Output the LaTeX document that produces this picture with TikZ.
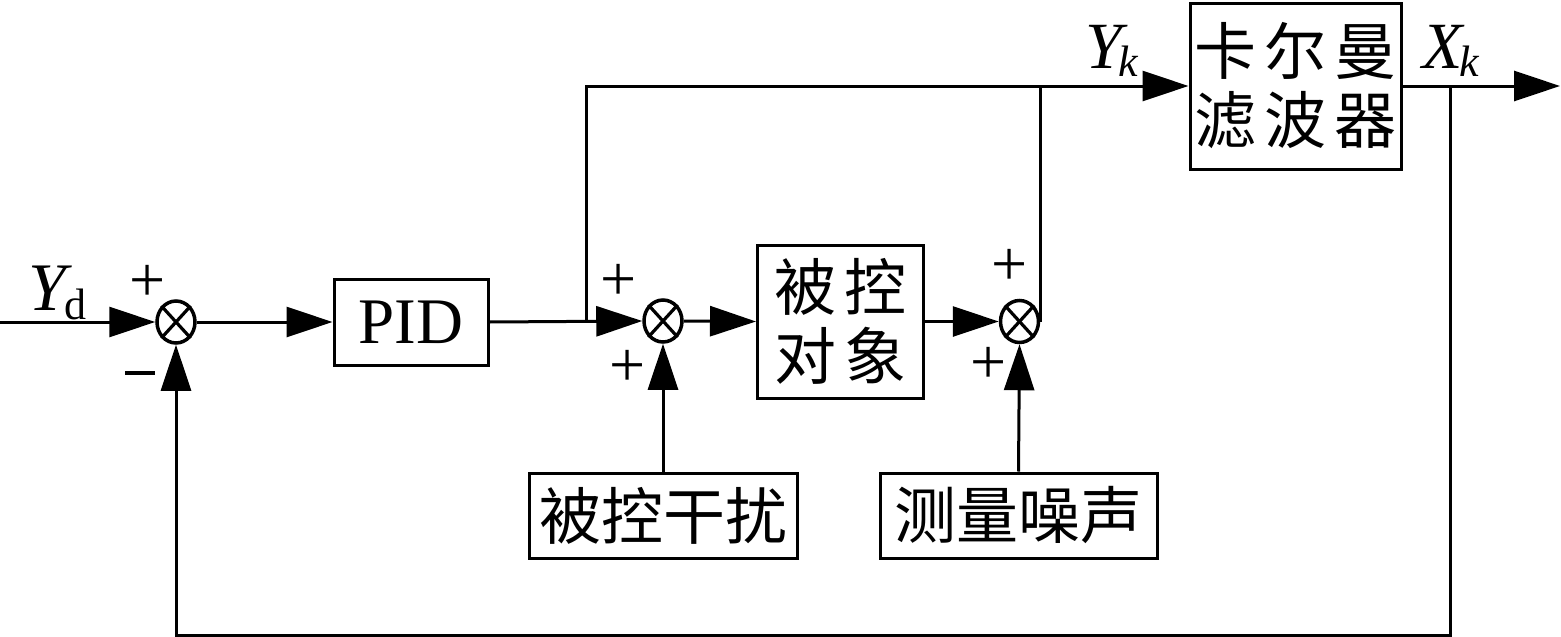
\documentclass[tikz,border=0pt]{standalone}
\usepackage{fontspec}
\setmainfont{Liberation Serif}
\newfontfamily\cjk{Noto Sans CJK SC}
\usetikzlibrary{arrows.meta,shapes.geometric}
\tikzset{
  wire/.style={line width=3pt, black},
  arr/.style={wire, -{Triangle[length=46pt,width=30pt]}},
  blk/.style={draw, line width=3pt, inner sep=0pt, align=center},
  sumnode/.style={draw, ellipse, line width=3.5pt, minimum width=38pt, minimum height=42pt, inner sep=0pt},
  cjktext/.style={font=\cjk\fontsize{62}{72}\selectfont},
  sign/.style={inner sep=0pt, font=\fontsize{64}{64}\selectfont},
  lbl/.style={inner sep=0pt, anchor=base west}
}
\begin{document}
\begin{tikzpicture}[x=1pt, y=-1pt]
\useasboundingbox (0,0) rectangle (1561,637);
% summing junctions
\node[sumnode] (s1) at (176,322) {};
\node[sumnode] (s2) at (663,321) {};
\node[sumnode] (s3) at (1019.5,321.5) {};
\foreach \s in {s1,s2,s3}{
  \draw[line width=3.2pt] (\s.north west) -- (\s.south east);
  \draw[line width=3.2pt] (\s.north east) -- (\s.south west);
}
% blocks
\node[blk, minimum width=154pt, minimum height=86pt, font=\fontsize{65}{65}\selectfont] (pid) at (411,322) {PID};
\node[blk, cjktext, minimum width=166pt, minimum height=153pt] (plant) at (840.5,321.5) {被\hspace{8pt}控\\[-3pt]对\hspace{8pt}象};
\node[blk, cjktext, minimum width=211pt, minimum height=166pt] (kal) at (1295.5,86) {卡\hspace{8pt}尔\hspace{8pt}曼\\[-3pt]滤\hspace{8pt}波\hspace{8pt}器};
\node[blk, cjktext, minimum width=268pt, minimum height=85pt] (dist) at (663,515.5) {被控干扰};
\node[blk, cjktext, minimum width=277pt, minimum height=85pt] (noise) at (1018.5,515.5) {测量噪声};
% coordinates
\coordinate (in) at (0,322);
\coordinate (br1) at (586,322);
\coordinate (br2) at (1450,86);
\coordinate (out) at (1560,86);
\coordinate (bot) at (1450,635);
% connectors
\draw[arr] (in) -- (s1.west);
\draw[arr] (s1.east) -- (pid.west);
\draw[arr] (pid.east) -- (s2.west);
\draw[arr] (br1) |- (kal.west);
\draw[arr] (s2.east) -- (plant.west);
\draw[arr] (plant.east) -- (s3.west);
\draw[wire] (s3.east) -- (s3.east |- kal.west);
\draw[arr] (dist.north) -- (s2.south);
\draw[arr] (noise.north) -- (s3.south);
\draw[arr] (kal.east) -- (out);
\draw[arr] (br2) -- (bot) -| (s1.south);
% signs
\node[sign] (p1) at (148,283) {+};
\node[sign] (m1) at (140,373) {\rule{30pt}{4.5pt}};
\node[sign] (p2) at (619,282) {+};
\node[sign] (p3) at (628,368) {+};
\node[sign] (p4) at (1009.5,267) {+};
\node[sign] (p5) at (989,365) {+};
% labels
\node[lbl] (yd) at (28,310) {\fontsize{68}{68}\selectfont\itshape Y\hspace{-2pt}\upshape\fontsize{44}{44}\selectfont\raisebox{-9pt}{d}};
\node[lbl] (yk) at (1085,68) {\fontsize{66}{66}\selectfont\itshape Y\hspace{-3pt}\fontsize{44}{44}\selectfont\raisebox{-8pt}{k}};
\node[lbl] (xk) at (1422,68) {\fontsize{66}{66}\selectfont\itshape X\hspace{-3pt}\fontsize{44}{44}\selectfont\raisebox{-8pt}{k}};
\end{tikzpicture}
\end{document}
